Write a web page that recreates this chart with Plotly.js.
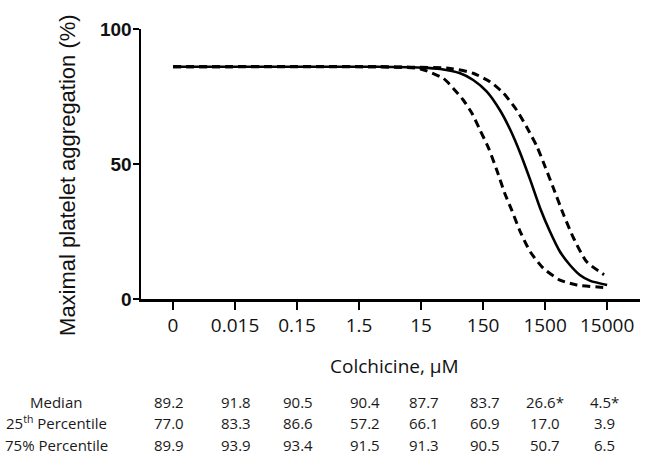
<!DOCTYPE html>
<html>
<head>
<meta charset="utf-8">
<script src="https://cdn.plot.ly/plotly-3.0.1.min.js"></script>
<style>html,body{margin:0;padding:0;background:#fff;}#chart{width:645px;height:455px;}</style>
</head>
<body>
<div id="chart"></div>
<script>
// Tick categories (log-spaced concentrations, plotted at index positions)
const concLabels = ["0", "0.015", "0.15", "1.5", "15", "150", "1500", "15000"];

// Curves (x = tick index, y = % aggregation)
const medianX = [0, 2.0, 3.3, 4.0, 4.31, 4.63, 4.84, 5.06, 5.27, 5.44, 5.6, 5.76, 5.92, 6.08, 6.24, 6.4, 6.56, 6.73, 7.0];
const medianY = [86.0, 86.0, 86.0, 85.7, 85.2, 83.6, 81.1, 76.8, 70.0, 62.6, 54.0, 44.1, 33.6, 24.9, 17.5, 12.6, 8.9, 6.7, 5.2];

const lowerX = [0, 3.3, 3.98, 4.36, 4.52, 4.68, 4.82, 4.95, 5.09, 5.22, 5.35, 5.46, 5.6, 5.76, 5.97, 6.24, 6.51, 7.0];
const lowerY = [86.0, 86.0, 85.3, 81.7, 78.0, 73.7, 68.8, 62.6, 55.8, 47.8, 39.1, 33.0, 24.9, 17.5, 11.4, 7.0, 5.2, 4.2];

const upperX = [0, 3.3, 4.47, 4.84, 5.11, 5.33, 5.54, 5.7, 5.87, 6.0, 6.13, 6.3, 6.46, 6.67, 6.95];
const upperY = [86.0, 86.0, 85.4, 83.6, 80.5, 76.2, 70.0, 63.8, 56.4, 49.0, 41.3, 31.1, 22.5, 13.8, 9.0];

// Table below the chart
const rowLabels = ["Median", "25<sup>th</sup> Percentile", "75% Percentile"];
const medianRow = ["89.2", "91.8", "90.5", "90.4", "87.7", "83.7", "26.6*", "4.5*"];
const p25Row = ["77.0", "83.3", "86.6", "57.2", "66.1", "60.9", "17.0", "3.9"];
const p75Row = ["89.9", "93.9", "93.4", "91.5", "91.3", "90.5", "50.7", "6.5"];

// ---- layout constants (not data) ----
const colShift = [-4.5, 1, 1, 6, 3, 2, 0, -3];
const rowY = [-0.381, -0.459, -0.541];
const tableFont = {family: "Open Sans, sans-serif", size: 15, color: "#1a1a1a"};

const traces = [
  {x: lowerX, y: lowerY, mode: "lines", line: {color: "#000", width: 3, dash: "8px,5px", shape: "spline", smoothing: 0.6}, hoverinfo: "skip"},
  {x: upperX, y: upperY, mode: "lines", line: {color: "#000", width: 3, dash: "8px,5px", shape: "spline", smoothing: 0.6}, hoverinfo: "skip"},
  {x: medianX, y: medianY, mode: "lines", line: {color: "#000", width: 2.6, shape: "spline", smoothing: 0.6}, hoverinfo: "skip"}
];

const annotations = [];
annotations.push({xref: "paper", yref: "paper", x: -0.146, y: 0.46, text: "Maximal platelet aggregation (%)",
  textangle: -90, showarrow: false, xanchor: "center", yanchor: "middle",
  font: {family: "Liberation Sans, Arial, sans-serif", size: 22, color: "#111"}});
annotations.push({xref: "paper", yref: "paper", x: 0.509, y: -0.248, text: "Colchicine, µM",
  showarrow: false, xanchor: "center", yanchor: "middle",
  font: {family: "Open Sans, sans-serif", size: 19, color: "#111"}});

const rows = [medianRow, p25Row, p75Row];
rows.forEach((row, r) => {
  annotations.push({xref: "paper", yref: "paper", x: -0.1703, y: rowY[r], text: rowLabels[r],
    showarrow: false, xanchor: "center", yanchor: "middle", font: tableFont});
  row.forEach((v, c) => {
    annotations.push({xref: "x", yref: "paper", x: c, xshift: colShift[c], y: rowY[r], text: v,
      showarrow: false, xanchor: "center", yanchor: "middle", font: tableFont});
  });
});

const layout = {
  width: 645, height: 455,
  margin: {l: 141, r: 5, t: 29, b: 156},
  paper_bgcolor: "#fff", plot_bgcolor: "#fff",
  showlegend: false,
  xaxis: {
    range: [-0.516, 7.53], tickmode: "array", tickvals: concLabels.map((_, i) => i), ticktext: concLabels,
    showline: true, linecolor: "#000", linewidth: 2.5, ticks: "outside", ticklen: 8, tickwidth: 2.5, tickcolor: "#000",
    showgrid: false, zeroline: false, fixedrange: true,
    tickfont: {family: "Open Sans, sans-serif", size: 19, color: "#111"}
  },
  yaxis: {
    range: [0, 100], tickmode: "array", tickvals: [0, 50, 100],
    showline: true, linecolor: "#000", linewidth: 2.5, ticks: "outside", ticklen: 6, tickwidth: 2.5, tickcolor: "#000",
    showgrid: false, zeroline: false, fixedrange: true, ticklabelstandoff: -3,
    tickfont: {family: "Liberation Sans, Arial, sans-serif", size: 19, color: "#111", weight: "bold"}
  },
  annotations: annotations
};

Plotly.newPlot("chart", traces, layout, {displayModeBar: false, staticPlot: true});
</script>
</body>
</html>
